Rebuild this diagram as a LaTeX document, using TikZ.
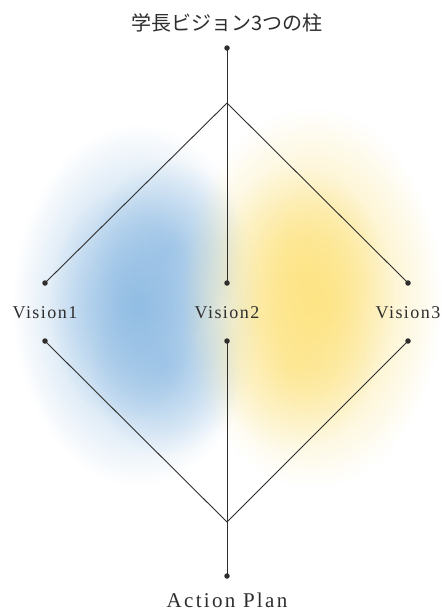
\documentclass[tikz,border=0pt]{standalone}
\usepackage{fontspec}
\setmainfont{Liberation Serif}
\newfontfamily\lblfont[LetterSpace=8]{Liberation Serif}
\newfontfamily\apfont[LetterSpace=11]{Liberation Serif}
\newfontfamily\cjk{Noto Sans CJK JP}
\usetikzlibrary{fadings}
\tikzfading[name=softfade, inner color=transparent!0, outer color=transparent!100]
\definecolor{vblue}{HTML}{8CBAE3}
\definecolor{vyellow}{HTML}{FDE482}
\definecolor{ink}{HTML}{2E2E2E}
\begin{document}
\begin{tikzpicture}[x=1pt,y=-1pt,
  ln/.style={line width=0.9pt, ink},
  dotnode/.style={circle, fill=ink, inner sep=0pt, minimum size=5.5pt},
  lbl/.style={font=\lblfont\fontsize{18}{18}\selectfont, text=ink, anchor=base, inner sep=0pt},
  ttl/.style={font=\cjk\fontsize{20}{20}\selectfont, text=ink, anchor=base, inner sep=0pt}]
\useasboundingbox (0,0) rectangle (442,611);
\fill[white] (0,0) rectangle (442,611);
% soft colour blobs
\fill[vblue, opacity=0.85, path fading=softfade] (138,305) ellipse (125pt and 180pt);
\fill[vblue, opacity=0.6, path fading=softfade] (168,250) ellipse (75pt and 90pt);
\fill[vblue, opacity=0.6, path fading=softfade] (165,365) ellipse (75pt and 90pt);
\fill[vblue, opacity=0.55, path fading=softfade] (125,305) ellipse (75pt and 115pt);
\fill[vyellow, opacity=0.9, path fading=softfade] (312,298) ellipse (130pt and 190pt);
\fill[vyellow, opacity=0.6, path fading=softfade] (298,260) ellipse (80pt and 95pt);
\fill[vyellow, opacity=0.6, path fading=softfade] (295,360) ellipse (80pt and 90pt);
\fill[vyellow, opacity=0.55, path fading=softfade] (320,300) ellipse (75pt and 115pt);
% nodes
\node[ttl] (title) at (227,30) {学長ビジョン3つの柱};
\node[dotnode] (t) at (227,48) {};
\coordinate (apex) at (227,103);
\node[dotnode] (l1) at (45,283) {};
\node[dotnode] (c1) at (227,283) {};
\node[dotnode] (r1) at (408,283) {};
\node[lbl] (v1) at (45,318) {Vision1};
\node[lbl] (v2) at (227,318) {Vision2};
\node[lbl] (v3) at (408,318) {Vision3};
\node[dotnode] (l2) at (45,341) {};
\node[dotnode] (c2) at (227,341) {};
\node[dotnode] (r2) at (408,341) {};
\coordinate (bot) at (227,522);
\node[dotnode] (b) at (227,576) {};
\node[font=\apfont\fontsize{21}{21}\selectfont, text=ink, anchor=base, inner sep=0pt] (ap) at (227,607) {Action Plan};
% connectors
\draw[ln] (t.center) -- (apex);
\draw[ln] (apex) -- (l1.center);
\draw[ln] (apex) -- (c1.center);
\draw[ln] (apex) -- (r1.center);
\draw[ln] (l2.center) -- (bot);
\draw[ln] (c2.center) -- (bot);
\draw[ln] (r2.center) -- (bot);
\draw[ln] (bot) -- (b.center);
\end{tikzpicture}
\end{document}
